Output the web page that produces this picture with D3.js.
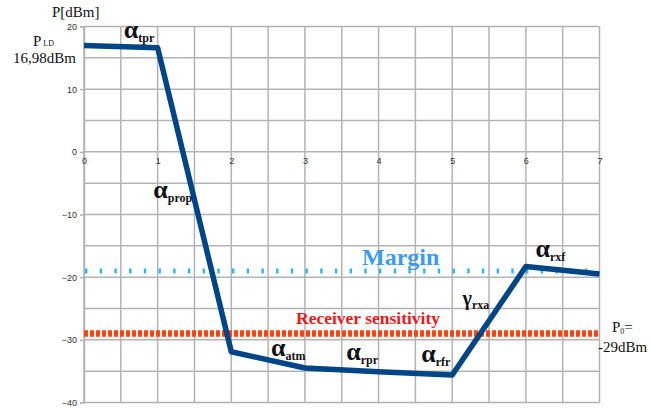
<!DOCTYPE html>
<html>
<head>
<meta charset="utf-8">
<script src="https://cdn.jsdelivr.net/npm/d3@7"></script>
<style>
  html, body { margin: 0; padding: 0; background: #fff; }
  svg { display: block; }
  .serif { font-family: "Liberation Serif", "DejaVu Serif", serif; }
  .tick text { font-family: "Liberation Sans", Arial, sans-serif; font-size: 9px; fill: #333; }
</style>
</head>
<body>
<svg id="chart" width="653" height="409"></svg>
<script>
// Link budget: power level along the optical path
const stages = [0, 1, 2, 3, 4, 5, 6, 7];
const powerDbm = [16.98, 16.6, -31.9, -34.5, -35.1, -35.6, -18.3, -19.5];
const marginLevel = -19;
const sensitivityLevel = -29;
const yTicks = [20, 10, 0, -10, -20, -30, -40];
const xTicks = [0, 1, 2, 3, 4, 5, 6, 7];

// Stage annotations: symbol, subscript, anchor (stage index, dBm)
const stageLabels = [
  { sym: "α", sub: "tpr",  sx: 0.54, sy: 18.2 },
  { sym: "α", sub: "prop", sx: 0.94, sy: -7.4 },
  { sym: "α", sub: "atm",  sx: 2.54, sy: -32.6 },
  { sym: "α", sub: "rpr",  sx: 3.56, sy: -33.2 },
  { sym: "α", sub: "rfr",  sx: 4.58, sy: -33.6 },
  { sym: "γ", sub: "rxa",  sx: 5.14, sy: -24.5 },
  { sym: "α", sub: "rxf",  sx: 6.13, sy: -16.8 }
];

const svg = d3.select("#chart");
const x = d3.scaleLinear().domain([0, 7]).range([84, 599.5]);
const y = d3.scaleLinear().domain([-40, 20]).range([402.5, 26.5]);

// Grid
const grid = svg.append("g").attr("stroke", "#b3b3b3").attr("stroke-width", 1.5);
grid.selectAll("line.v").data(d3.range(0, 7.01, 0.5)).join("line")
  .attr("x1", d => x(d)).attr("x2", d => x(d))
  .attr("y1", y(20)).attr("y2", y(-40));
grid.selectAll("line.h").data(d3.range(-40, 20.01, 5)).join("line")
  .attr("x1", x(0)).attr("x2", x(7))
  .attr("y1", d => y(d)).attr("y2", d => y(d));

// Y axis
const yAxis = svg.append("g").attr("transform", `translate(${x(0)},0)`)
  .call(d3.axisLeft(y).tickValues(yTicks).tickSize(4).tickPadding(3).tickFormat(d3.format("d")));
yAxis.select(".domain").attr("stroke", "#b3b3b3").attr("stroke-width", 1.5);
yAxis.selectAll(".tick line").attr("stroke", "#b3b3b3").attr("stroke-width", 1.5);

// X axis labels along the 0 dBm line
const xAxis = svg.append("g").attr("transform", `translate(0,${y(0)})`)
  .call(d3.axisBottom(x).tickValues(xTicks).tickSize(0).tickPadding(6).tickFormat(d3.format("d")));
xAxis.select(".domain").remove();

// Margin reference (cyan dashes)
svg.append("line")
  .attr("x1", x(0) + 1).attr("x2", x(7))
  .attr("y1", y(marginLevel)).attr("y2", y(marginLevel))
  .attr("stroke", "#2ab8f5").attr("stroke-width", 5)
  .attr("stroke-dasharray", "2.4 12.3");

// Receiver sensitivity (red dots)
svg.append("line")
  .attr("x1", x(0)).attr("x2", x(7))
  .attr("y1", y(sensitivityLevel)).attr("y2", y(sensitivityLevel))
  .attr("stroke", "#ff420e").attr("stroke-width", 6.5)
  .attr("stroke-dasharray", "4 2");

// Power curve
const line = d3.line().x((d, i) => x(stages[i])).y(d => y(d));
svg.append("path").datum(powerDbm)
  .attr("d", line)
  .attr("fill", "none")
  .attr("stroke", "#004586")
  .attr("stroke-width", 5.5)
  .attr("stroke-linejoin", "round");

// Stage annotations
const lab = svg.append("g").attr("class", "serif").attr("font-weight", "bold").attr("fill", "#111");
stageLabels.forEach(s => {
  const t = lab.append("text").attr("x", x(s.sx)).attr("y", y(s.sy));
  t.append("tspan").attr("font-size", s.sym === "γ" ? 20 : 26).text(s.sym);
  t.append("tspan").attr("font-size", 12).attr("dy", 4).text(s.sub);
});

// Reference line captions
svg.append("text").attr("class", "serif")
  .attr("x", 362).attr("y", 265)
  .attr("font-size", 24).attr("font-weight", "bold").attr("fill", "#3a9cf0")
  .text("Margin");
svg.append("text").attr("class", "serif")
  .attr("x", 296).attr("y", 324)
  .attr("font-size", 17.5).attr("font-weight", "bold").attr("fill", "#f01818")
  .text("Receiver sensitivity");

// Axis title and level annotations
const ann = svg.append("g").attr("class", "serif").attr("fill", "#111").attr("font-size", 15);
ann.append("text").attr("x", 52).attr("y", 17).text("P[dBm]");
const pld = ann.append("text").attr("x", 33).attr("y", 46);
pld.append("tspan").text("P");
pld.append("tspan").attr("font-size", 8).attr("dx", 2).attr("dy", 0).text("LD");
ann.append("text").attr("x", 13).attr("y", 63).text("16,98dBm");
const p0 = ann.append("text").attr("x", 612).attr("y", 332);
p0.append("tspan").text("P");
p0.append("tspan").attr("font-size", 8).attr("dy", 2).text("0");
p0.append("tspan").attr("dy", -2).text("=");
ann.append("text").attr("x", 598).attr("y", 352).text("-29dBm");
</script>
</body>
</html>
